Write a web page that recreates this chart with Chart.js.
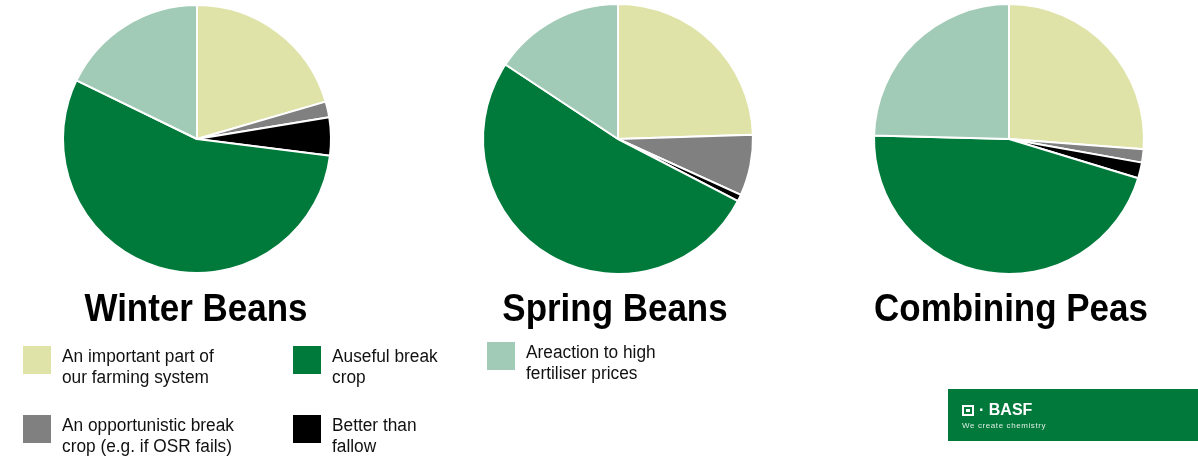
<!DOCTYPE html>
<html>
<head>
<meta charset="utf-8">
<script src="https://cdn.jsdelivr.net/npm/chart.js@4"></script>
<style>
  body { margin: 0; width: 1198px; height: 461px; background: #fff; position: relative; overflow: hidden;
         font-family: "Liberation Sans", Arial, sans-serif; }
  canvas.pie { position: absolute; }
  .title { position: absolute; top: 289px; width: 400px; margin-left: -200px; text-align: center;
           font-size: 38px; line-height: 38px; font-weight: bold; color: #000; transform: scaleX(0.92); }
  .swatch { position: absolute; width: 28px; height: 28px; }
  .ltext { position: absolute; font-size: 18px; line-height: 21px; color: #111; white-space: nowrap;
           transform: scaleX(0.96); transform-origin: left top; }
  #basf { position: absolute; left: 948px; top: 389px; width: 250px; height: 52px; background: #00793a; }
  #basf .mark { position: absolute; left: 14px; top: 13px; color: #fff; font-weight: bold; font-size: 16px;
                line-height: 16px; filter: blur(0.5px); white-space: nowrap; }
  #basf .box { display: inline-block; width: 12px; height: 11px; border: 2px solid #fff; margin-right: 5px;
               vertical-align: -1px; box-sizing: border-box; position: relative; }
  #basf .box:after { content: ""; position: absolute; left: 2px; top: 2px; width: 4px; height: 3px; background: #fff; }
  #basf .tag { position: absolute; left: 14px; top: 32px; color: #dfeee5; font-size: 8px; letter-spacing: 0.6px;
               white-space: nowrap; filter: blur(0.5px); }
</style>
</head>
<body>
<canvas class="pie" id="winter" width="280" height="280"></canvas>
<canvas class="pie" id="spring" width="280" height="280"></canvas>
<canvas class="pie" id="peas" width="280" height="280"></canvas>

<div class="title" style="left:196px">Winter Beans</div>
<div class="title" style="left:615px">Spring Beans</div>
<div class="title" style="left:1011px">Combining Peas</div>

<div id="legend"></div>

<div id="basf">
  <div class="mark"><span class="box"></span>&middot; BASF</div>
  <div class="tag">We create chemistry</div>
</div>

<script>
// answer categories, in the order the slices run clockwise from 12 o'clock
var categories = [
  "An important part of our farming system",
  "An opportunistic break crop (e.g. if OSR fails)",
  "Better than fallow",
  "Auseful break crop",
  "Areaction to high fertiliser prices"
];
var colors = ["#dfe3a8", "#808080", "#000000", "#007a3b", "#a1cbb6"];

// share of responses (%) per crop
var winterBeans = [20.5, 1.9, 4.6, 55.2, 17.8];
var springBeans = [24.5, 7.3, 0.8, 51.7, 15.7];
var combiningPeas = [26.2, 1.6, 1.9, 45.7, 24.6];

// legend rows, as wrapped on the slide
var legendLines = [
  ["An important part of", "our farming system"],
  ["An opportunistic break", "crop (e.g. if OSR fails)"],
  ["Better than", "fallow"],
  ["Auseful break", "crop"],
  ["Areaction to high", "fertiliser prices"]
];
var legendPos = [
  { x: 23, y: 346 },
  { x: 23, y: 415 },
  { x: 293, y: 415 },
  { x: 293, y: 346 },
  { x: 487, y: 342 }
];

function makePie(id, values, cx, cy, r) {
  var canvas = document.getElementById(id);
  canvas.style.left = (cx - 140) + "px";
  canvas.style.top = (cy - 140) + "px";
  new Chart(canvas.getContext("2d"), {
    type: "pie",
    data: {
      labels: categories,
      datasets: [{
        data: values,
        backgroundColor: colors,
        borderColor: "#ffffff",
        borderWidth: 2
      }]
    },
    options: {
      responsive: false,
      animation: false,
      radius: r,
      layout: { padding: 0 },
      plugins: {
        legend: { display: false },
        tooltip: { enabled: false }
      }
    }
  });
}

makePie("winter", winterBeans, 197, 139, 134);
makePie("spring", springBeans, 618, 139, 135);
makePie("peas", combiningPeas, 1009, 139, 135);

// legend
var legend = document.getElementById("legend");
for (var i = 0; i < categories.length; i++) {
  var p = legendPos[i];
  var sw = document.createElement("div");
  sw.className = "swatch";
  sw.style.left = p.x + "px";
  sw.style.top = p.y + "px";
  sw.style.background = colors[i];
  legend.appendChild(sw);

  var t = document.createElement("div");
  t.className = "ltext";
  t.style.left = (p.x + 39) + "px";
  t.style.top = p.y + "px";
  t.innerHTML = legendLines[i].join("<br>");
  legend.appendChild(t);
}
</script>
</body>
</html>
